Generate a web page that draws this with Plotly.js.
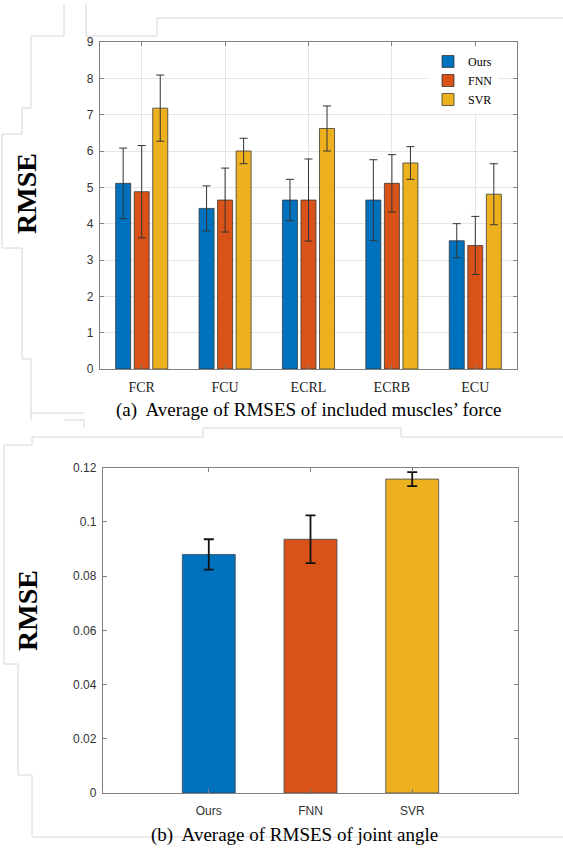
<!DOCTYPE html>
<html>
<head>
<meta charset="utf-8">
<script src="https://cdn.plot.ly/plotly-3.0.1.min.js"></script>
<style>
  html, body { margin: 0; padding: 0; background: #ffffff; }
  #chart { width: 563px; height: 848px; }
</style>
</head>
<body>
<div id="chart"></div>
<script>
// ---- Data ----
const muscles = ['FCR', 'FCU', 'ECRL', 'ECRB', 'ECU'];
const seriesNames = ['Ours', 'FNN', 'SVR'];
const oursMean = [5.11, 4.42, 4.65, 4.65, 3.53];
const oursErr  = [0.97, 0.62, 0.57, 1.11, 0.47];
const fnnMean  = [4.88, 4.65, 4.65, 5.11, 3.40];
const fnnErr   = [1.27, 0.88, 1.13, 0.79, 0.80];
const svrMean  = [7.18, 6.00, 6.62, 5.67, 4.81];
const svrErr   = [0.91, 0.35, 0.62, 0.45, 0.84];

const methods   = ['Ours', 'FNN', 'SVR'];
const angleMean = [0.0880, 0.0936, 0.1158];
const angleErr  = [0.0056, 0.0088, 0.0026];

const yTicksForce = [0, 1, 2, 3, 4, 5, 6, 7, 8, 9];
const yTicksAngle = [0, 0.02, 0.04, 0.06, 0.08, 0.1, 0.12];

const colors = ['#0072BD', '#D95319', '#EDB120'];
const captionA = '(a)  Average of RMSES of included muscles\u2019 force';
const captionB = '(b)  Average of RMSES of joint angle';

// ---- Traces ----
const forceMeans = [oursMean, fnnMean, svrMean];
const forceErrs = [oursErr, fnnErr, svrErr];
const traces = seriesNames.map((name, i) => ({
  type: 'bar', name: name, x: muscles, y: forceMeans[i],
  xaxis: 'x', yaxis: 'y',
  marker: { color: colors[i], line: { color: 'rgba(50,50,50,0.75)', width: 1 } },
  error_y: { type: 'data', array: forceErrs[i], visible: true, color: '#333333', thickness: 1, width: 4 },
  hoverinfo: 'x+y'
}));
traces.push({
  type: 'bar', x: methods, y: angleMean, xaxis: 'x2', yaxis: 'y2', showlegend: false,
  width: 0.52,
  marker: { color: colors, line: { color: 'rgba(60,70,80,0.8)', width: 1 } },
  error_y: { type: 'data', array: angleErr, visible: true, color: '#111111', thickness: 1.8, width: 5 }
});

const W = 563, H = 848;
const px = v => v / W;
const py = v => 1 - v / H;

const axisCommon = {
  showline: true, linecolor: '#808080', linewidth: 1.2, mirror: 'ticks',
  ticks: 'inside', ticklen: 4, tickcolor: '#808080', tickwidth: 1,
  zeroline: false
};

const grayLine = { type: 'line', xref: 'paper', yref: 'paper', line: { color: '#d6d6d6', width: 1 } };
const segs = [
  // top decorative text-box borders
  [86, 4, 86, 36], [86, 36, 157, 36], [157, 36, 157, 18], [157, 18, 563, 18],
  [64, 4, 64, 36], [64, 36, 31, 36], [31, 36, 31, 108], [31, 108, 22, 108], [22, 108, 22, 134],
  [22, 134, 2, 134], [2, 134, 2, 248], [2, 248, 22, 248], [22, 248, 22, 359], [22, 359, 31, 359],
  [31, 359, 31, 420], [31, 413, 84, 413],
  // bottom decorative borders
  [64, 420, 84, 420], [84, 420, 84, 428],
  [32, 437, 203, 437], [203, 437, 203, 428], [203, 428, 401, 428], [401, 428, 401, 437], [401, 437, 563, 437],
  [32, 437, 32, 445], [32, 445, 4, 445], [4, 445, 4, 664], [4, 664, 18, 664], [18, 664, 18, 775],
  [18, 775, 32, 775], [32, 775, 32, 837], [32, 837, 563, 837]
];
const shapes = segs.map(s => Object.assign({}, grayLine, { x0: px(s[0]), y0: py(s[1]), x1: px(s[2]), y1: py(s[3]), layer: 'below' }));

const layout = {
  width: W, height: H,
  margin: { l: 0, r: 0, t: 0, b: 0 },
  paper_bgcolor: '#ffffff', plot_bgcolor: '#ffffff',
  barmode: 'group', bargap: 0.333, bargroupgap: 0.19,
  showlegend: true,
  legend: {
    x: px(428), y: py(47), xanchor: 'left', yanchor: 'top',
    bgcolor: '#ffffff', borderwidth: 0,
    font: { family: 'Liberation Serif, Times New Roman, serif', size: 12, color: '#000000' },
    tracegroupgap: 0, itemwidth: 30
  },
  xaxis: Object.assign({}, axisCommon, {
    domain: [px(100), px(517)], anchor: 'y', type: 'category', range: [-0.5, 4.5],
    showgrid: true, gridcolor: '#e6e6e6', gridwidth: 1,
    tickfont: { family: 'Liberation Serif, Times New Roman, serif', size: 14, color: '#222222' },
    ticklabelstandoff: 5
  }),
  yaxis: Object.assign({}, axisCommon, {
    domain: [py(369), py(42)], anchor: 'x', range: [0, 9], tickvals: yTicksForce,
    showgrid: true, gridcolor: '#e6e6e6', gridwidth: 1,
    tickfont: { family: 'Liberation Sans, Arial, sans-serif', size: 12, color: '#333333' },
    ticklabelstandoff: 3
  }),
  xaxis2: Object.assign({}, axisCommon, {
    domain: [px(103), px(518)], anchor: 'y2', type: 'category', range: [-1.04, 3.04],
    showgrid: false,
    tickfont: { family: 'Liberation Sans, Arial, sans-serif', size: 12, color: '#333333' },
    ticklabelstandoff: 6
  }),
  yaxis2: Object.assign({}, axisCommon, {
    domain: [py(793), py(467.7)], anchor: 'x2', range: [0, 0.12], tickvals: yTicksAngle,
    showgrid: false,
    tickfont: { family: 'Liberation Sans, Arial, sans-serif', size: 12, color: '#333333' },
    ticklabelstandoff: 3
  }),
  annotations: [
    { text: 'RMSE', xref: 'paper', yref: 'paper', x: px(27), y: py(194), textangle: -90, showarrow: false,
      xanchor: 'center', yanchor: 'middle',
      font: { family: 'Liberation Serif, Times New Roman, serif', size: 28, color: '#000000', weight: 'bold' } },
    { text: 'RMSE', xref: 'paper', yref: 'paper', x: px(27), y: py(611), textangle: -90, showarrow: false,
      xanchor: 'center', yanchor: 'middle',
      font: { family: 'Liberation Serif, Times New Roman, serif', size: 28, color: '#000000', weight: 'bold' } },
    { text: captionA, xref: 'paper', yref: 'paper', x: px(309), y: py(410), showarrow: false,
      xanchor: 'center', yanchor: 'middle',
      font: { family: 'Liberation Serif, Times New Roman, serif', size: 19, color: '#000000' } },
    { text: captionB, xref: 'paper', yref: 'paper', x: px(294), y: py(835), showarrow: false,
      xanchor: 'center', yanchor: 'middle',
      font: { family: 'Liberation Serif, Times New Roman, serif', size: 19, color: '#000000' } }
  ],
  shapes: shapes
};

Plotly.newPlot('chart', traces, layout, { displayModeBar: false, staticPlot: true });
</script>
</body>
</html>
